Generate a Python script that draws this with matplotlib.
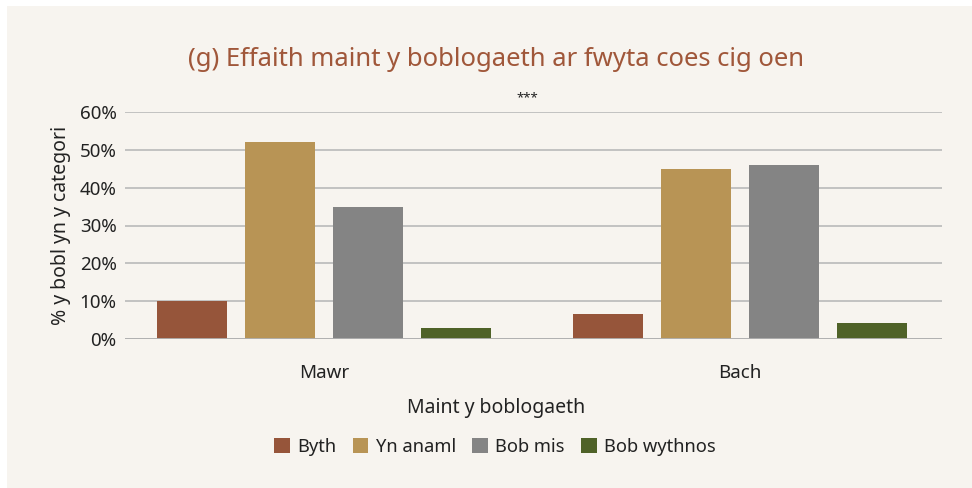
import numpy as np
import matplotlib.pyplot as plt
from matplotlib.patches import Rectangle

# data
groups = ['Mawr', 'Bach']
series = ['Byth', 'Yn anaml', 'Bob mis', 'Bob wythnos']
byth = [10.0, 6.6]
yn_anaml = [52.1, 45.0]
bob_mis = [34.9, 46.0]
bob_wythnos = [2.9, 4.2]
yticks = [0, 10, 20, 30, 40, 50, 60]

colours = ['#96553A', '#B89455', '#848484', '#4F6228']
bg = '#F7F4EF'

plt.rcParams['font.family'] = ['Noto Sans', 'DejaVu Sans']

fig = plt.figure(figsize=(9.72, 4.88), dpi=100)
fig.patch.set_facecolor('white')
fig.patches.append(Rectangle((7 / 972, 0), 1, 1 - 6 / 488, transform=fig.transFigure,
                             facecolor=bg, edgecolor='none', zorder=-10))

ax = fig.add_axes([125 / 972, 1 - 339 / 488, 817 / 972, 227 / 488])
ax.patch.set_alpha(0)

x = np.arange(len(groups))
step = 0.2115
width = 0.168
for i, (name, vals) in enumerate(zip(series, [byth, yn_anaml, bob_mis, bob_wythnos])):
    ax.bar(x + (i - 1.5) * step, vals, width, color=colours[i], label=name, zorder=3)

ax.set_xlim(-0.478, 1.486)
ax.set_ylim(0, 60)
ax.set_yticks(yticks)
ax.set_yticklabels([f'{t}%' for t in yticks])
ax.yaxis.grid(True, color='#BEBEBE', linewidth=1.3, zorder=0)
ax.set_xticks(x)
ax.set_xticklabels(groups)
for s in ax.spines.values():
    s.set_visible(False)
ax.tick_params(axis='both', length=0, colors='#222222')
ax.tick_params(axis='y', labelsize=13.5, pad=6)
ax.tick_params(axis='x', labelsize=13.5, pad=18)
ax.axhline(0, color='#B0B0B0', linewidth=1.3, zorder=4)

ax.set_ylabel('% y bobl yn y categori', fontsize=14, color='#222222', labelpad=6)
fig.text(496 / 972, 1 - 408 / 488, 'Maint y boblogaeth', ha='center', va='center',
         fontsize=14, color='#222222')

ax.annotate('***', xy=(0.489, 63.8), ha='center', va='center', fontsize=9.5,
            fontweight='bold', color='#222222', annotation_clip=False)

fig.text(496 / 972, 1 - 60 / 488, '(g) Effaith maint y boblogaeth ar fwyta coes cig oen',
         ha='center', va='center', fontsize=18.5, color='#A0573A')

fig.legend(loc='center', bbox_to_anchor=(495 / 972, 1 - 447 / 488), ncol=4,
           frameon=False, fontsize=13.2, handlelength=0.85, handleheight=0.85,
           handletextpad=0.4, columnspacing=0.9, labelcolor='#222222')

fig.savefig('out.png', dpi=100, facecolor=fig.get_facecolor())
